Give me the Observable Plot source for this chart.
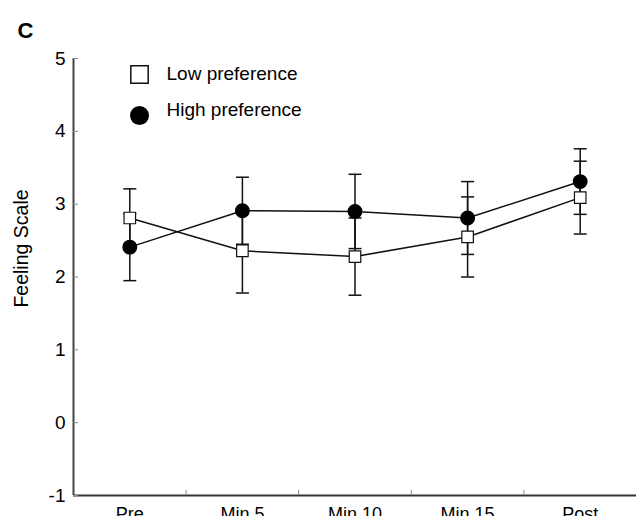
<!DOCTYPE html>
<html>
<head>
<meta charset="utf-8">
<script src="https://cdn.jsdelivr.net/npm/d3@7"></script>
<script src="https://cdn.jsdelivr.net/npm/@observablehq/plot@0.6"></script>
<style>
  html, body { margin: 0; padding: 0; background: #fff; overflow: hidden; }
  svg { font-family: "Liberation Sans", Arial, sans-serif; }
</style>
</head>
<body>
<div id="chart"></div>
<script>
const categories = ["Pre", "Min 5", "Min 10", "Min 15", "Post"];
const seriesNames = ["Low preference", "High preference"];
const lowMean = [2.81, 2.36, 2.28, 2.55, 3.09];
const lowErr  = [0.40, 0.58, 0.53, 0.55, 0.50];
const highMean = [2.41, 2.91, 2.90, 2.81, 3.31];
const highErr  = [0.46, 0.46, 0.51, 0.50, 0.45];
const yTicks = [-1, 0, 1, 2, 3, 4, 5];
const panelLabel = "C";
const yLabel = "Feeling Scale";

const rows = [];
categories.forEach((c, i) => {
  rows.push({series: seriesNames[0], cat: c, pos: i + 0.5, mean: lowMean[i], lo: lowMean[i] - lowErr[i], hi: lowMean[i] + lowErr[i]});
  rows.push({series: seriesNames[1], cat: c, pos: i + 0.5, mean: highMean[i], lo: highMean[i] - highErr[i], hi: highMean[i] + highErr[i]});
});
const low = rows.filter(d => d.series === seriesNames[0]);
const high = rows.filter(d => d.series === seriesNames[1]);

const capSymbol = {
  draw(ctx, size) {
    const r = Math.sqrt(size / Math.PI);
    ctx.moveTo(-r, 0);
    ctx.lineTo(r, 0);
  }
};

const plot = Plot.plot({
  width: 636,
  height: 516,
  marginLeft: 73,
  marginRight: 0,
  marginTop: 58,
  marginBottom: 21,
  style: {fontFamily: "'Liberation Sans', Arial, sans-serif", fontSize: "18px", color: "#000", background: "#fff"},
  x: {domain: [0, categories.length]},
  y: {domain: [-1, 5]},
  marks: [
    // axis lines
    Plot.ruleX([0], {y1: -1, y2: 5, stroke: "#444", strokeWidth: 2}),
    Plot.ruleY([-1], {x1: 0, x2: categories.length, stroke: "#333", strokeWidth: 2}),
    Plot.axisY({ticks: yTicks, tickSize: -5, tickPadding: 13, tickFormat: d => `${d}`, stroke: "#888", fill: "#000", fontSize: 19, label: null}),
    Plot.axisX({ticks: d3.range(1, categories.length + 1), tickSize: -5, tickFormat: () => "", stroke: "#888", label: null}),
    Plot.axisX({ticks: categories.map((c, i) => i + 0.5), tickSize: 0, tickPadding: 12, tickFormat: v => categories[Math.floor(v)], fill: "#000", fontSize: 18, label: null}),
    // error bars
    Plot.ruleX(rows, {x: "pos", y1: "lo", y2: "hi", stroke: "#111", strokeWidth: 1.5}),
    Plot.dot(rows, {x: "pos", y: "lo", symbol: capSymbol, r: 6.5, stroke: "#111", strokeWidth: 1.5}),
    Plot.dot(rows, {x: "pos", y: "hi", symbol: capSymbol, r: 6.5, stroke: "#111", strokeWidth: 1.5}),
    // lines
    Plot.line(low, {x: "pos", y: "mean", stroke: "#111", strokeWidth: 1.5}),
    Plot.line(high, {x: "pos", y: "mean", stroke: "#111", strokeWidth: 1.5}),
    // markers
    Plot.dot(low, {x: "pos", y: "mean", symbol: "square", r: 6.5, fill: "#fff", stroke: "#111", strokeWidth: 1.2}),
    Plot.dot(high, {x: "pos", y: "mean", symbol: "circle", r: 6.7, fill: "#000", stroke: "#000"}),
    // legend
    Plot.dot([seriesNames[0]], {frameAnchor: "top-left", dx: 66, dy: 16, symbol: "square", r: 9.8, fill: "#fff", stroke: "#111", strokeWidth: 1.5}),
    Plot.dot([seriesNames[1]], {frameAnchor: "top-left", dx: 66, dy: 57, symbol: "circle", r: 9.5, fill: "#000"}),
    Plot.text([seriesNames[0]], {text: d => d, frameAnchor: "top-left", dx: 93, dy: 15, textAnchor: "start", lineAnchor: "middle", fontSize: 19, fill: "#000"}),
    Plot.text([seriesNames[1]], {text: d => d, frameAnchor: "top-left", dx: 93, dy: 51.5, textAnchor: "start", lineAnchor: "middle", fontSize: 19, fill: "#000"}),
    // y label
    Plot.text([yLabel], {text: d => d, frameAnchor: "left", rotate: -90, dx: -52, dy: -28.5, textAnchor: "middle", lineAnchor: "middle", fontSize: 19.5, fill: "#000"}),
    // panel label
    Plot.text([panelLabel], {text: d => d, frameAnchor: "top-left", dx: -48, dy: -28, textAnchor: "middle", lineAnchor: "middle", fontSize: 22, fontWeight: "bold", fill: "#000"})
  ]
});
document.getElementById("chart").appendChild(plot);
</script>
</body>
</html>
